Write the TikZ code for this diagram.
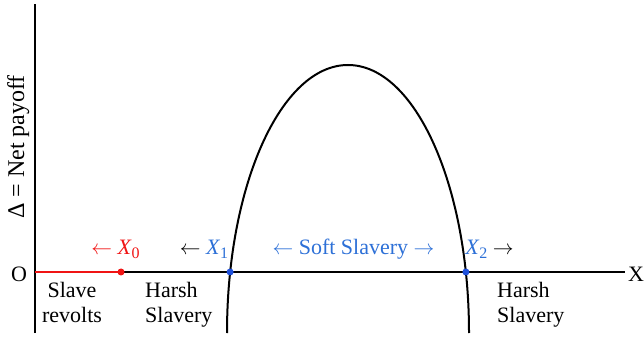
\documentclass[tikz,border=0pt]{standalone}
\usepackage{fontspec}
\setmainfont{Liberation Serif}
\definecolor{myblue}{RGB}{45,112,215}
\definecolor{dotblue}{RGB}{30,80,220}
\definecolor{myred}{RGB}{240,20,20}
\newcommand{\sub}[1]{\raisebox{-0.35ex}{\fontsize{16}{16}\selectfont #1}}
\begin{document}
\begin{tikzpicture}[x=1pt,y=1pt]
\tikzset{
  axis/.style={line width=1.6pt, line cap=butt},
  curve/.style={line width=2pt},
  lbl/.style={font=\fontsize{22}{26}\selectfont, inner sep=0pt},
  dot/.style={circle, fill, inner sep=0pt, minimum size=7pt}
}
\useasboundingbox (0,0) rectangle (644,337);
\coordinate (Otop) at (35,333);
\coordinate (Obot) at (35,4);
\coordinate (O) at (35,65);
\coordinate (Xend) at (625,65);
\coordinate (cstart) at (227,4);
\draw[axis] (Obot) -- (Otop);
\draw[axis] (O) -- (Xend);
\node[dot, fill=myred] (x0) at (121,65) {};
\draw[axis, myred] (O) -- (x0.center);
\draw[curve] (cstart) arc[start angle=180, end angle=0, x radius=121, y radius=268];
\node[dot, fill=dotblue] (x1) at (230.1,65) {};
\node[dot, fill=dotblue] (x2) at (465.9,65) {};
% axis labels
\node[lbl, anchor=base] (olbl) at (19,56) {O};
\node[lbl, anchor=base] (xlbl) at (636,56) {X};
\node[lbl, font=\fontsize{24}{28}\selectfont, rotate=90, anchor=base] (ylbl) at (24,190) {Δ = Net payoff};
% upper labels
\node[lbl, anchor=base, text=myred] (l0) at (115.5,82) {$\leftarrow$ \textit{X}\sub{0}};
\node[lbl, anchor=base] (l1) at (204,82) {$\leftarrow$ \textcolor{myblue}{\textit{X}\sub{1}}};
\node[lbl, anchor=base, text=myblue] (ls) at (353.5,82) {$\leftarrow$ Soft Slavery $\rightarrow$};
\node[lbl, anchor=base] (l2) at (489.5,82) {\textcolor{myblue}{\textit{X}\sub{2}} $\rightarrow$};
% lower labels
\node[lbl, anchor=base] (s1) at (72,40) {Slave};
\node[lbl, anchor=base] (s2) at (72,15) {revolts};
\node[lbl, anchor=base west] (h1) at (145,40) {Harsh};
\node[lbl, anchor=base west] (h2) at (145,15) {Slavery};
\node[lbl, anchor=base west] (h3) at (497,40) {Harsh};
\node[lbl, anchor=base west] (h4) at (497,15) {Slavery};
\end{tikzpicture}
\end{document}
